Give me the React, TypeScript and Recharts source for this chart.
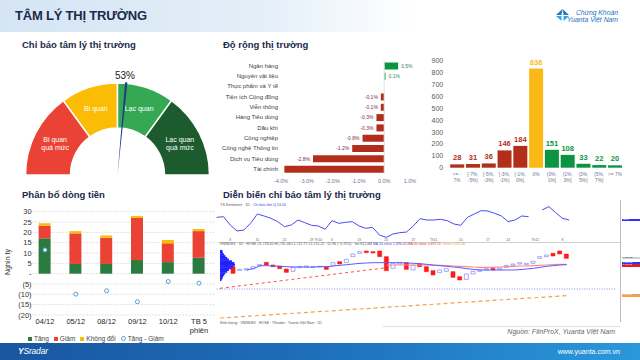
import React from "react";
import {
  PieChart,
  Pie,
  Cell,
  BarChart,
  Bar,
  XAxis,
  YAxis,
  LabelList,
  CartesianGrid,
  ComposedChart,
  Line,
  LineChart,
  ReferenceLine,
} from "recharts";

const FONT = "'Liberation Sans', Arial, Helvetica, sans-serif";
const NAVY = "#1b2a4a";
const RAD = Math.PI / 180;

// gauge
const moodNames = ["Bi quan quá mức", "Bi quan", "Lạc quan", "Lạc quan quá mức"];
const moodShares = [30, 20, 20, 30];
const moodNow = 53;

// breadth by sector (% change)
const sectors = [
  "Ngân hàng",
  "Nguyên vật liệu",
  "Thực phẩm và Y tế",
  "Tiện ích Cộng đồng",
  "Viễn thông",
  "Hàng Tiêu dùng",
  "Dầu khí",
  "Công nghiệp",
  "Công nghệ Thông tin",
  "Dịch vụ Tiêu dùng",
  "Tài chính",
];
const sectorChange = [0.54, 0.05, 0.0, -0.13, -0.13, -0.3, -0.3, -0.84, -1.24, -2.76, -3.87];

// number of stocks per price-change bucket
const bucketTop = ["<= -", "[-7%,", "[-5%,", "[-3%,", "[-1%,", "0%", "(0%,", "(1%,", "(3%,", "(5%,", ">= 7%"];
const bucketBottom = ["7%", "-5%)", "-3%)", "-1%)", "0%)", "", "1%]", "3%]", "5%]", "7%]", ""];
const bucketCount = [28, 31, 36, 146, 184, 836, 151, 108, 33, 22, 20];

// money flow (nghìn tỷ)
const flowDays = ["04/12", "05/12", "08/12", "09/12", "10/12", "TB 5 phiên"];
const flowUp = [17.1, 4.7, 4.7, 6.6, 5.6, 7.7];
const flowDown = [6.1, 14.8, 12.7, 20.4, 9.1, 12.9];
const flowFlat = [1.2, 1.1, 1.1, 0.9, 1.6, 1.0];
const flowNet = [11.5, -9.9, -8.3, -13.6, -3.8, -4.6];

// sentiment history pane
const sentiment = [
  56.2, 57, 47, 39.8, 41, 49, 60.2, 57.8, 55, 51, 45, 47, 53, 49.8, 46.6, 45.8, 41.8, 52.2, 49, 50.2,
  51, 45.8, 43, 44.2, 35, 32.2, 36.2, 37.8, 38.6, 45.8, 54.6, 53, 53, 53.8, 52.2, 48.2, 46.6, 56.2,
  60.2, 64.2, 63.8, 61, 57.8, 51, 53, 57.8, 57, null, 65, 69, 61.8, 55, 53,
];
const priceOpen = [
  null, 1707, 1690, 1679, 1680, 1684, 1692, 1703, 1695, 1692, 1683, 1676, 1687, 1688, 1688, 1689, 1689,
  1694, 1705, 1702, 1720, 1730, 1737, 1735, 1737, 1720, 1685, 1698, 1702, 1680, 1698, 1690, 1678, 1672,
  1676, 1675, 1660, 1652, 1668, 1676, 1680, 1685, 1682, 1688, 1694, 1698, 1696, 1700, 1715, 1720, 1730,
  1737, 1728,
];
const priceClose = [
  null, 1692, 1670, 1682, 1684, 1690, 1696, 1695, 1690, 1684, 1673, 1688, 1691, 1692, 1690, 1691, 1682,
  1702, 1698, 1712, 1728, 1735, 1732, 1731, 1720, 1678, 1700, 1702, 1682, 1694, 1690, 1675, 1665, 1680,
  1684, 1658, 1650, 1668, 1676, 1680, 1684, 1680, 1686, 1694, 1698, 1702, 1700, 1706, 1720, 1725, 1722,
  1728, 1715,
];
const maFast = [
  null, null, null, null, 1680, 1684, 1693, 1693, 1692, 1691, 1690, 1689, 1689, 1689, 1689, 1690, 1690,
  1692, 1694, 1696, 1698, 1700, 1701, 1702, 1702, 1702, 1702, 1702, 1701, 1700, 1699, 1697, 1695, 1693,
  1691, 1689, 1687, 1684, 1682, 1680, 1680, 1680, 1680, 1680, 1680, 1681, 1683, 1685, 1688, 1691, 1693,
  1695, 1696,
];
const maSlow = [
  null, null, null, null, null, null, null, null, null, null, null, null, null, null, null, null, null,
  null, null, null, null, null, null, null, null, 1694, 1695, 1695, 1695, 1695, 1695, 1695, 1694, 1694,
  1693, 1692, 1691, 1690, 1689, 1688, 1688, 1688, 1689, 1690, 1691, 1692, 1692, 1693, 1694, 1695, 1696,
  1697, 1697,
];
const trendStart = 1625;
const trendMeet = 1687;
const orangeStart = 1536;
const orangeEnd = 1603;
const supportLevel = 1623;
const profileRows = [8, 10, 14, 18, 24, 30, 40, 48, 50, 45, 38, 30, 24, 18, 14, 10, 8, 5];
const dateTickIdx = [2, 6, 10, 14, 15, 17, 21, 25, 29, 32, 36, 40, 43, 47, 51];
const dateTickText = ["8", "15", "22", "29", "Th10", "6", "13", "20", "27", "Th11", "10", "17", "24", "Th12", "8"];

const breadthData = sectors.map((s, i) => ({ sector: s, change: sectorChange[i] }));
const bucketData = bucketCount.map((c, i) => ({ bucket: i, count: c }));
const flowData = flowDays.map((d, i) => ({
  day: d,
  tang: flowUp[i],
  giam: flowDown[i],
  kd: flowFlat[i],
  net: flowNet[i],
}));
const tvData = Array.from({ length: 60 }, (_, i) => {
  const o = priceOpen[i];
  const c = priceClose[i];
  return {
    i,
    sent: sentiment[i] ?? null,
    body: o != null && c != null ? [Math.min(o, c), Math.max(o, c)] : null,
    up: o != null && c != null ? c >= o : false,
    ma1: maFast[i] ?? null,
    ma2: maSlow[i] ?? null,
    trend: i === 0 ? trendStart : i === 25 ? trendMeet : null,
    orange: i === 0 ? orangeStart : i === 52 ? orangeEnd : null,
  };
});
const profileData = profileRows.map((v, i) => ({ row: i, v }));

const bucketColor = (i: number) => (i < 5 ? "#b32e1a" : i === 5 ? "#fbb917" : "#0b9441");

function moodLabel(props: any) {
  const { cx, cy, index } = props;
  let before = 0;
  for (let k = 0; k < index; k++) before += moodShares[k];
  const total = moodShares.reduce((a, b) => a + b, 0);
  const mid = 180 - ((before + moodShares[index] / 2) / total) * 180;
  const x = cx + 70 * Math.cos(mid * RAD);
  const y = cy - 70 * Math.sin(mid * RAD);
  const name = moodNames[index];
  const cut = name.indexOf(" quá");
  const lines = cut > 0 ? [name.slice(0, cut), name.slice(cut + 1)] : [name];
  return (
    <text x={x} y={y} fill="#fff" fontSize={7} textAnchor="middle">
      {lines.map((l, k) => (
        <tspan key={k} x={x} dy={k === 0 ? (lines.length > 1 ? -1.5 : 2.5) : 8.5}>
          {l}
        </tspan>
      ))}
    </text>
  );
}

function needleLabel(props: any) {
  if (props.index !== 1) return null;
  const a = 180 - moodNow * 1.8;
  const x = props.cx + 100 * Math.cos(a * RAD);
  const y = props.cy - 100 * Math.sin(a * RAD);
  return (
    <text x={x - 2} y={y + 3.5} textAnchor="middle" fontSize={10} fill="#1a1a1a">
      {moodNow}%
    </text>
  );
}

function SectorTick(props: any) {
  const { x, y, payload } = props;
  return (
    <text x={x} y={y} dy={2.1} textAnchor="end" fontSize={6} fill="#3d3d3d">
      {payload.value}
    </text>
  );
}

function breadthLabel(props: any) {
  const { x, y, width, height, value } = props;
  const left = Math.min(x, x + width);
  const right = Math.max(x, x + width);
  if (value < -3.5) return null;
  const pos = value >= 0;
  return (
    <text
      x={pos ? right + 3 : left - 3}
      y={y + height / 2 + 1.8}
      textAnchor={pos ? "start" : "end"}
      fontSize={5}
      fill={pos ? "#2f8a52" : "#7d2a45"}
    >
      {value.toFixed(1)}%
    </text>
  );
}

function BucketTick(props: any) {
  const { x, y, payload } = props;
  const i = payload.value;
  return (
    <g>
      <text x={x} y={y + 6} textAnchor="middle" fontSize={4.8} fill="#6b7896">
        {bucketTop[i]}
      </text>
      <text x={x} y={y + 12} textAnchor="middle" fontSize={4.8} fill="#6b7896">
        {bucketBottom[i]}
      </text>
    </g>
  );
}

function bucketLabel(props: any) {
  const { x, y, width, value, index } = props;
  return (
    <text x={x + width / 2} y={y - 4} textAnchor="middle" fontSize={7.5} fontWeight="bold" fill={bucketColor(index)}>
      {value}
    </text>
  );
}

function FlowYTick(props: any) {
  const { x, y, payload } = props;
  const v = payload.value;
  const t = v > 0 ? String(v) : v < 0 ? `(${-v})` : "-";
  return (
    <text x={x + 2} y={y} dy={2.6} textAnchor="end" fontSize={7.5} fill="#333">
      {t}
    </text>
  );
}

function DayTick(props: any) {
  const { x, y, payload } = props;
  const v: string = payload.value;
  const cut = v.indexOf(" phiên");
  const lines = cut > 0 ? [v.slice(0, cut), v.slice(cut + 1)] : [v];
  return (
    <text x={x} y={y + 7} textAnchor="middle" fontSize={7.5} fill="#262626">
      {lines.map((l, k) => (
        <tspan key={k} x={x} dy={k === 0 ? 0 : 9}>
          {l}
        </tspan>
      ))}
    </text>
  );
}

const abs = (left: number, top: number, extra: React.CSSProperties = {}): React.CSSProperties => ({
  position: "absolute",
  left,
  top,
  ...extra,
});

function Title({ left, top, children }: { left: number; top: number; children: React.ReactNode }) {
  return (
    <div style={abs(left, top, { fontSize: 9.5, fontWeight: "bold", color: NAVY, whiteSpace: "nowrap", lineHeight: "11px" })}>
      {children}
    </div>
  );
}

function Tag({ top, bg, color, text }: { top: number; bg: string; color: string; text: string }) {
  return (
    <div
      style={abs(622, top, {
        width: 18,
        height: 2.6,
        background: bg,
        color,
        fontSize: 2.4,
        lineHeight: "2.6px",
        paddingLeft: 1,
        overflow: "hidden",
      })}
    >
      {text}
    </div>
  );
}

export default function App() {
  const needleParts = [{ v: moodNow - 0.4 }, { v: 0.8 }, { v: 100 - moodNow - 0.4 }];
  const moodData = moodNames.map((n, i) => ({ name: n, value: moodShares[i] }));
  const moodColors = ["#ea4335", "#fbbc05", "#34a853", "#1c5b2e"];

  return (
    <div
      style={{
        position: "absolute",
        left: 0,
        top: 0,
        width: 640,
        height: 360,
        overflow: "hidden",
        background: "#fff",
        fontFamily: FONT,
      }}
    >
      {/* header */}
      <div
        style={abs(0, 0, {
          width: 640,
          height: 32,
          background: "linear-gradient(90deg, #d5e5f4 0%, #e3eef8 40%, #ffffff 65%)",
        })}
      />
      <div style={abs(15, 8, { fontSize: 13, fontWeight: "bold", color: NAVY, letterSpacing: -0.2 })}>
        TÂM LÝ THỊ TRƯỜNG
      </div>
      <svg style={abs(556, 9)} width={13} height={13} viewBox="0 0 13 13">
        <path d="M6.5 0 L0 6 L5.5 6 Z" fill="#1e78c8" />
        <path d="M6.5 0 L13 6 L7.5 6 Z" fill="#1e78c8" />
        <path d="M0 7 L5.5 7 L5.5 12 Z" fill="#32a7e6" />
        <path d="M13 7 L7.5 7 L7.5 12 Z" fill="#32a7e6" />
      </svg>
      <div
        style={abs(552, 9, {
          width: 66,
          textAlign: "right",
          fontSize: 6.8,
          lineHeight: "7px",
          fontStyle: "italic",
          color: "#1e6fc0",
          whiteSpace: "nowrap",
        })}
      >
        Chứng Khoán
        <br />
        Yuanta Việt Nam
      </div>

      {/* gauge */}
      <Title left={22} top={39}>
        Chỉ báo tâm lý thị trường
      </Title>
      <div style={abs(0, 60)}>
        <PieChart width={225} height={120}>
          <Pie
            data={moodData}
            dataKey="value"
            cx={112.5}
            cy={110}
            startAngle={180}
            endAngle={0}
            innerRadius={47}
            outerRadius={92}
            stroke="#fff"
            strokeWidth={1.5}
            label={moodLabel}
            labelLine={false}
            isAnimationActive={false}
          >
            {moodData.map((_, i) => (
              <Cell key={i} fill={moodColors[i]} />
            ))}
          </Pie>
          <Pie
            data={needleParts}
            dataKey="v"
            cx={112.5}
            cy={110}
            startAngle={180}
            endAngle={0}
            innerRadius={0}
            outerRadius={93}
            stroke="none"
            label={needleLabel}
            labelLine={false}
            isAnimationActive={false}
          >
            {needleParts.map((_, i) => (
              <Cell key={i} fill={i === 1 ? "#1f3c8c" : "transparent"} />
            ))}
          </Pie>
        </PieChart>
      </div>

      {/* breadth by sector */}
      <Title left={223} top={39}>
        Độ rộng thị trường
      </Title>
      <div style={abs(215, 50)}>
        <BarChart
          layout="vertical"
          width={210}
          height={140}
          data={breadthData}
          margin={{ top: 10.5, right: 15, bottom: 4, left: 0 }}
        >
          <XAxis
            type="number"
            domain={[-4, 1]}
            ticks={[-4, -3, -2, -1, 0, 1]}
            interval={0}
            tickFormatter={(v: number) => `${v.toFixed(1)}%`}
            axisLine={false}
            tickLine={false}
            tickSize={0}
            tickMargin={5}
            height={12}
            tick={{ fontSize: 5.5, fill: "#6b7896" }}
          />
          <YAxis
            type="category"
            dataKey="sector"
            width={66}
            interval={0}
            axisLine={false}
            tickLine={false}
            tickSize={0}
            tickMargin={3}
            tick={<SectorTick />}
          />
          <ReferenceLine x={0} stroke="#e2e2e2" />
          <Bar dataKey="change" barSize={7} isAnimationActive={false}>
            {breadthData.map((d, i) => (
              <Cell key={i} fill={d.change >= 0 ? "#0b9441" : "#b32e1a"} />
            ))}
            <LabelList dataKey="change" content={breadthLabel} />
          </Bar>
        </BarChart>
      </div>

      {/* histogram of price changes */}
      <div style={abs(420, 50)}>
        <BarChart width={220} height={140} data={bucketData} margin={{ top: 11, right: 17.2, bottom: 0, left: 0 }}>
          <XAxis
            dataKey="bucket"
            interval={0}
            axisLine={false}
            tickLine={false}
            tickSize={0}
            height={22.3}
            tick={<BucketTick />}
          />
          <YAxis
            domain={[0, 900]}
            ticks={[0, 100, 200, 300, 400, 500, 600, 700, 800, 900]}
            interval={0}
            width={29.2}
            axisLine={false}
            tickLine={false}
            tickSize={0}
            tickMargin={6}
            tick={{ fontSize: 7, fill: "#595959" }}
          />
          <Bar dataKey="count" barSize={14} isAnimationActive={false}>
            {bucketData.map((_, i) => (
              <Cell key={i} fill={bucketColor(i)} />
            ))}
            <LabelList dataKey="count" content={bucketLabel} />
          </Bar>
        </BarChart>
      </div>

      {/* money flow */}
      <Title left={22} top={189}>
        Phân bổ dòng tiền
      </Title>
      <div style={abs(0, 200)}>
        <ComposedChart width={218} height={145} data={flowData} margin={{ top: 11.7, right: 3.6, bottom: 0, left: 0 }}>
          <CartesianGrid vertical={false} stroke="#dadada" strokeDasharray="1.5 1.5" />
          <XAxis dataKey="day" interval={0} axisLine={false} tickLine={false} tickSize={0} height={30} tick={<DayTick />} />
          <YAxis
            domain={[-20, 30]}
            ticks={[-20, -15, -10, -5, 0, 5, 10, 15, 20, 25, 30]}
            interval={0}
            width={29.6}
            axisLine={false}
            tickLine={false}
            tickSize={0}
            tickMargin={0}
            tick={<FlowYTick />}
          />
          <Bar dataKey="tang" stackId="s" fill="#2b7a40" barSize={12} isAnimationActive={false} />
          <Bar dataKey="giam" stackId="s" fill="#ea4335" barSize={12} isAnimationActive={false} />
          <Bar dataKey="kd" stackId="s" fill="#fbbc04" barSize={12} isAnimationActive={false} />
          <Line
            dataKey="net"
            stroke="none"
            dot={{ r: 2, fill: "#fff", stroke: "#5b9bd5", strokeWidth: 1 }}
            activeDot={false}
            isAnimationActive={false}
          />
        </ComposedChart>
      </div>
      <div
        style={abs(7, 262, {
          fontSize: 7,
          color: "#333",
          transform: "translate(-50%, -50%) rotate(-90deg)",
          whiteSpace: "nowrap",
        })}
      >
        Nghìn tỷ
      </div>
      <div style={abs(28, 335, { display: "flex", alignItems: "center", fontSize: 6.5, color: "#444", whiteSpace: "nowrap" })}>
        <span style={{ width: 4, height: 4, background: "#2b7a40", marginRight: 2 }} />
        <span style={{ marginRight: 5 }}>Tăng</span>
        <span style={{ width: 4, height: 4, background: "#ea4335", marginRight: 2 }} />
        <span style={{ marginRight: 5 }}>Giảm</span>
        <span style={{ width: 4, height: 4, background: "#fbbc04", marginRight: 2 }} />
        <span style={{ marginRight: 5 }}>Không đổi</span>
        <span
          style={{ width: 3, height: 3, border: "1px solid #5b9bd5", borderRadius: "50%", marginRight: 2 }}
        />
        <span>Tăng - Giảm</span>
      </div>

      {/* sentiment history */}
      <Title left={223} top={189}>
        Diễn biến chỉ báo tâm lý thị trường
      </Title>
      <div style={abs(220, 203, { fontSize: 3.6, color: "#555", whiteSpace: "nowrap" })}>
        YS Sentiment · 1D · <span style={{ color: "#4a4af0" }}>Chỉ báo tâm lý 53.00</span>
      </div>
      <div style={abs(210, 203)}>
        <LineChart width={430} height={39} data={tvData} margin={{ top: 0, right: 23.33, bottom: 0, left: 6.67 }}>
          <XAxis
            dataKey="i"
            ticks={dateTickIdx}
            interval={0}
            tickFormatter={(v: number) => dateTickText[dateTickIdx.indexOf(v)] ?? ""}
            axisLine={false}
            tickLine={false}
            tickSize={0}
            tickMargin={0}
            height={3.5}
            tick={{ fontSize: 3.4, fill: "#666" }}
          />
          <YAxis hide domain={[30.8, 73.4]} allowDataOverflow />
          <Line dataKey="sent" stroke="#4a4af0" strokeWidth={1} dot={false} activeDot={false} isAnimationActive={false} />
        </LineChart>
      </div>
      <div style={abs(218, 241.5, { width: 402, height: 1, background: "#cfcfcf" })} />
      <div style={abs(220, 242.3, { fontSize: 3.5, color: "#555", whiteSpace: "nowrap" })}>
        VNINDEX · 1D · HOSE O1,728.40 H1,731.06 L1,712.77 C1,715.22 −12.96 (−0.75%) · Vol 812.4M{" "}
        <span style={{ color: "#4a4af0" }}>MA 20 close 1,696.05</span>{" "}
        <span style={{ color: "#e03030" }}>MA 50 close 1,697.11</span>{" "}
        <span style={{ color: "#f0a050" }}>Trend 1,603.40</span>
      </div>
      <div style={abs(210, 242)}>
        <ComposedChart width={430} height={82} data={tvData} margin={{ top: 0, right: 23.33, bottom: 0, left: 6.67 }}>
          <XAxis dataKey="i" hide />
          <YAxis hide domain={[1518, 1764]} allowDataOverflow />
          <ReferenceLine y={supportLevel} stroke="#8a8aff" strokeDasharray="1 1.5" />
          <Line dataKey="orange" stroke="#f5a24e" strokeWidth={1.2} strokeDasharray="4 3" dot={false} connectNulls activeDot={false} isAnimationActive={false} />
          <Line dataKey="trend" stroke="#ff5050" strokeWidth={1} strokeDasharray="3 3" dot={false} connectNulls activeDot={false} isAnimationActive={false} />
          <Line dataKey="ma2" stroke="#ff8a8a" strokeWidth={1.2} dot={false} activeDot={false} isAnimationActive={false} />
          <Line dataKey="ma1" stroke="#5a5aff" strokeWidth={1} dot={false} activeDot={false} isAnimationActive={false} />
          <Bar dataKey="body" barSize={4} isAnimationActive={false}>
            {tvData.map((d, i) => (
              <Cell key={i} fill={d.up ? "#ffffff" : "#ff1a1a"} stroke={d.up ? "#6d6dff" : "#ff1a1a"} strokeWidth={0.6} />
            ))}
          </Bar>
        </ComposedChart>
      </div>
      <div style={abs(220, 250)}>
        <BarChart layout="vertical" width={18} height={31} data={profileData} margin={{ top: 0, right: 0, bottom: 0, left: 0 }} barCategoryGap={0}>
          <XAxis type="number" hide domain={[0, 60]} />
          <YAxis type="category" dataKey="row" hide />
          <Bar dataKey="v" fill="#1f1fff" isAnimationActive={false} />
        </BarChart>
      </div>
      <div style={abs(620, 200, { width: 1, height: 122, background: "#bdbdbd" })} />
      <Tag top={218.8} bg="#2f2fff" color="#fff" text="53.00" />
      <Tag top={256.7} bg="#d0d0d0" color="#333" text="1,715.22" />
      <Tag top={261.7} bg="#2f2fff" color="#fff" text="1,696.05" />
      <Tag top={264.3} bg="#e02020" color="#fff" text="1,697.11" />
      <Tag top={294.3} bg="#f0a050" color="#fff" text="1,603.40" />
      <div style={abs(220, 320.5, { fontSize: 3.5, color: "#555", whiteSpace: "nowrap" })}>
        Khối lượng · VNINDEX · HOSE · YSradar · Yuanta Việt Nam · 1D
      </div>
      <div style={abs(383, 325.5, { width: 237, height: 1, background: "#e0e0e0" })} />
      <div style={abs(400, 328, { width: 215, textAlign: "right", fontSize: 7, fontStyle: "italic", color: "#666" })}>
        Nguồn: FiinProX, Yuanta Việt Nam
      </div>

      {/* footer */}
      <div
        style={abs(0, 343, {
          width: 640,
          height: 17,
          background: "linear-gradient(90deg, #1a56a0 0%, #1d6cb8 45%, #2a98da 100%)",
        })}
      />
      <div style={abs(18, 346, { fontSize: 8.5, fontStyle: "italic", color: "#fff", letterSpacing: -0.2 })}>
        <span style={{ fontWeight: "bold" }}>Y</span>Sradar
      </div>
      <div style={abs(500, 347.5, { width: 120, textAlign: "right", fontSize: 7, color: "#fff" })}>
        www.yuanta.com.vn
      </div>
    </div>
  );
}
